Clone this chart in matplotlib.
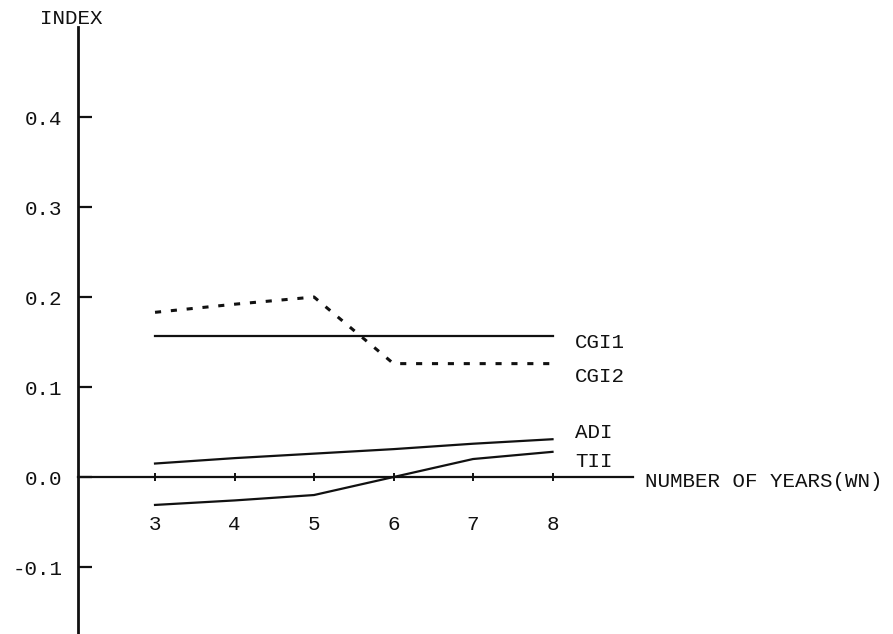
import matplotlib
matplotlib.use("Agg")
import matplotlib.pyplot as plt

years = [3, 4, 5, 6, 7, 8]
cgi1 = [0.157, 0.157, 0.157, 0.157, 0.157, 0.157]
cgi2 = [0.183, 0.192, 0.200, 0.126, 0.126, 0.126]
adi = [0.015, 0.021, 0.026, 0.031, 0.037, 0.042]
tii = [-0.031, -0.026, -0.020, 0.0, 0.020, 0.028]

series_names = ["CGI1", "CGI2", "ADI", "TII"]
label_y = [0.149, 0.112, 0.050, 0.017]

y_ticks = [-0.1, 0.0, 0.1, 0.2, 0.3, 0.4]
y_tick_labels = ["-0.1", "0.0", "0.1", "0.2", "0.3", "0.4"]

plt.rcParams["font.family"] = ["Liberation Mono", "DejaVu Sans Mono"]
ink = "#111111"

fig = plt.figure(figsize=(8.93, 6.34), dpi=100)
ax = fig.add_axes([0, 0, 1, 1])
ax.set_xlim(1.05, 12.283)
ax.set_ylim(-0.1744, 0.53)

# axes drawn like a typed sheet: y axis at x~2, x axis through zero
for s in ["top", "right"]:
    ax.spines[s].set_visible(False)
ax.spines["left"].set_position(("data", 2.03))
ax.spines["left"].set_bounds(-0.1744, 0.5)
ax.spines["left"].set_linewidth(2.0)
ax.spines["bottom"].set_position(("data", 0.0))
ax.spines["bottom"].set_bounds(2.03, 9.01)
ax.spines["bottom"].set_linewidth(1.6)
for s in ["left", "bottom"]:
    ax.spines[s].set_color(ink)

ax.set_yticks(y_ticks)
ax.set_yticklabels(y_tick_labels)
ax.tick_params(axis="y", direction="in", length=10, width=1.6, pad=11,
               labelsize=15, colors=ink)
ax.set_xticks(years)
ax.set_xticklabels([str(y) for y in years])
ax.tick_params(axis="x", direction="inout", length=6, width=1.4, pad=24,
               labelsize=15, colors=ink)

ax.plot(years, cgi1, color=ink, lw=1.6)
ax.plot(years, cgi2, color=ink, lw=2.2, linestyle=(0, (2, 3.2)))
ax.plot(years, adi, color=ink, lw=1.6)
ax.plot(years, tii, color=ink, lw=1.6)

for name, yl in zip(series_names, label_y):
    ax.text(8.28, yl, name, fontsize=15, color=ink, va="center", ha="left")

ax.text(1.943, 0.51, "INDEX", fontsize=15, color=ink, ha="center", va="center")
ax.text(9.16, -0.0055, "NUMBER OF YEARS(WN)", fontsize=15, color=ink,
        ha="left", va="center")

fig.savefig("out.png", dpi=100)
